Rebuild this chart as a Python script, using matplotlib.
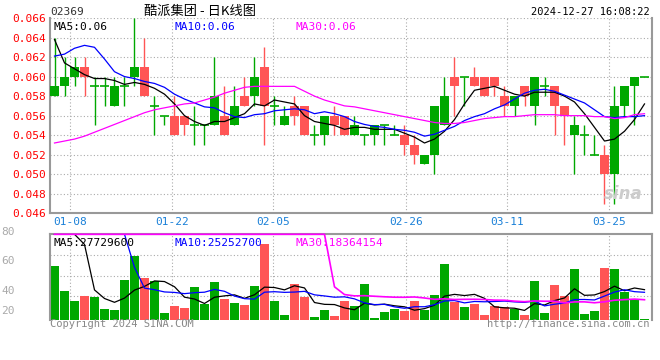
import numpy as np
import pandas as pd
import matplotlib.pyplot as plt

# 02369 daily K-line, HK colours: green = up day, red = down day
opens = [0.058, 0.059, 0.060, 0.061, 0.059, 0.059, 0.057, 0.059, 0.060, 0.061,
         0.057, 0.056, 0.056, 0.056, 0.055, 0.055, 0.055, 0.056, 0.055, 0.058,
         0.058, 0.061, 0.057, 0.055, 0.057, 0.057, 0.054, 0.054, 0.056, 0.056,
         0.054, 0.054, 0.054, 0.055, 0.054, 0.054, 0.053, 0.051, 0.052, 0.055,
         0.060, 0.060, 0.060, 0.060, 0.060, 0.058, 0.057, 0.059, 0.057, 0.059,
         0.059, 0.057, 0.054, 0.054, 0.052, 0.052, 0.050, 0.057, 0.059, 0.060]
closes = [0.059, 0.060, 0.061, 0.060, 0.059, 0.059, 0.059, 0.059, 0.061, 0.058,
          0.057, 0.056, 0.054, 0.055, 0.055, 0.055, 0.058, 0.054, 0.057, 0.057,
          0.060, 0.057, 0.057, 0.056, 0.056, 0.054, 0.054, 0.056, 0.055, 0.054,
          0.055, 0.054, 0.055, 0.055, 0.054, 0.053, 0.052, 0.052, 0.057, 0.058,
          0.059, 0.060, 0.059, 0.058, 0.059, 0.057, 0.058, 0.058, 0.060, 0.059,
          0.057, 0.056, 0.055, 0.054, 0.052, 0.050, 0.057, 0.059, 0.060, 0.060]
highs = [0.064, 0.062, 0.062, 0.062, 0.060, 0.060, 0.060, 0.060, 0.066, 0.064,
         0.058, 0.056, 0.058, 0.056, 0.057, 0.055, 0.062, 0.059, 0.059, 0.060,
         0.062, 0.063, 0.058, 0.057, 0.058, 0.057, 0.055, 0.056, 0.057, 0.056,
         0.056, 0.054, 0.055, 0.055, 0.055, 0.055, 0.054, 0.052, 0.057, 0.060,
         0.062, 0.060, 0.061, 0.060, 0.060, 0.059, 0.058, 0.059, 0.060, 0.060,
         0.059, 0.057, 0.056, 0.055, 0.054, 0.053, 0.059, 0.059, 0.060, 0.060]
lows = [0.058, 0.058, 0.059, 0.058, 0.055, 0.057, 0.057, 0.057, 0.059, 0.058,
        0.054, 0.055, 0.054, 0.054, 0.053, 0.053, 0.055, 0.054, 0.055, 0.057,
        0.057, 0.053, 0.055, 0.055, 0.055, 0.054, 0.053, 0.053, 0.054, 0.054,
        0.054, 0.053, 0.053, 0.053, 0.054, 0.052, 0.051, 0.051, 0.050, 0.055,
        0.056, 0.057, 0.059, 0.058, 0.058, 0.056, 0.056, 0.057, 0.055, 0.058,
        0.054, 0.053, 0.050, 0.052, 0.052, 0.047, 0.047, 0.056, 0.055, 0.060]
# volume, million shares
vols = [49.8, 26.9, 17.7, 22.2, 21.4, 10.4, 9.4, 37.0, 58.9, 38.5,
        35.4, 6.5, 13.2, 11.0, 30.2, 14.9, 35.1, 19.5, 15.6, 14.1,
        31.5, 70.0, 17.7, 4.9, 33.0, 21.4, 3.1, 9.4, 3.9, 17.6,
        13.0, 33.0, 1.8, 7.3, 10.1, 8.3, 17.4, 9.1, 22.9, 51.7,
        16.5, 11.9, 14.6, 4.6, 12.8, 11.9, 10.1, 4.6, 35.7, 6.5,
        32.1, 22.2, 46.8, 5.5, 8.3, 47.7, 46.8, 25.7, 18.3, 0.6]

# days before the window (estimated from where the MA lines enter)
prev_close = [0.058, 0.055, 0.057, 0.061, 0.071, 0.072, 0.064, 0.063, 0.061]
prev_vol = [18, 22, 15, 30, 26, 12, 20, 17, 24, 35, 19, 14, 28, 21, 16,
            25, 33, 20, 18, 27, 22, 15, 29, 24, 19, 23, 26, 1500, 230]
# price MA30
ma30 = [0.0532, 0.0534, 0.0536, 0.0539, 0.0543, 0.0547, 0.0551, 0.0555, 0.0559, 0.0563,
        0.0566, 0.0568, 0.0570, 0.0572, 0.0573, 0.0576, 0.0579, 0.0583, 0.0586, 0.0589,
        0.0590, 0.0590, 0.0590, 0.0590, 0.0590, 0.0585, 0.0580, 0.0576, 0.0573, 0.0570,
        0.0569, 0.0567, 0.0565, 0.0563, 0.0561, 0.0559, 0.0557, 0.0555, 0.0553, 0.0552,
        0.0552, 0.0553, 0.0555, 0.0557, 0.0558, 0.0559, 0.0559, 0.0560, 0.0561, 0.0561,
        0.0561, 0.0560, 0.0560, 0.0560, 0.0559, 0.0559, 0.0557, 0.0558, 0.0561, 0.0562]

date_idx = [2, 12, 22, 35, 45, 55]
date_labels = ['01-08', '01-22', '02-05', '02-26', '03-11', '03-25']
price_ticks = [0.046, 0.048, 0.050, 0.052, 0.054, 0.056, 0.058, 0.060, 0.062, 0.064, 0.066]
vol_grid = [22.3, 40.6, 59.4]
vol_top = 78.6

GREEN = '#00a800'
RED = '#ff5555'
GRID = '#aaaaaa'
MONO = 'DejaVu Sans Mono'

o = np.array(opens); c = np.array(closes); h = np.array(highs); l = np.array(lows)
v = np.array(vols)
n = len(c)
x = np.arange(n)
xc = x + 0.45
cols = np.where(c >= o, GREEN, RED)

cs = pd.Series(prev_close + closes)
ma5 = cs.rolling(5).mean().values[len(prev_close):]
ma10 = cs.rolling(10).mean().values[len(prev_close):]
vs = pd.Series(prev_vol + vols)
vma5 = np.minimum(vs.rolling(5).mean().values[len(prev_vol):], vol_top)
vma10 = np.minimum(vs.rolling(10).mean().values[len(prev_vol):], vol_top)
vma30 = np.minimum(vs.rolling(30).mean().values[len(prev_vol):], vol_top)

# sina spaces the date grid with a slightly wider step than the 10px candles
grid_x = np.array(date_idx) * 1.017 - 0.03

W, H = 660, 360
fig = plt.figure(figsize=(6.6, 3.6), dpi=100)
ax1 = fig.add_axes([50 / W, 1 - 213.3 / H, 602 / W, 195.3 / H])
ax2 = fig.add_axes([50 / W, 1 - 320 / H, 602 / W, 85.7 / H])

# price pane
for y in price_ticks[1:]:
    ax1.axhline(y, color=GRID, lw=0.8, ls=(0, (1, 2)), zorder=0)
for gx in grid_x:
    ax1.axvline(gx, color=GRID, lw=0.8, ls=(0, (1, 2)), zorder=0)
ax1.vlines(xc, l, h, colors=cols, lw=1, zorder=2)
ax1.bar(x, np.abs(c - o), bottom=np.minimum(o, c), width=0.9, align='edge',
        color=cols, linewidth=0, zorder=3)
doji = c == o
ax1.hlines(c[doji], x[doji], x[doji] + 0.9, colors=cols[doji], lw=1.2, zorder=3)
ax1.plot(xc, ma5, color='black', lw=0.9, zorder=4)
ax1.plot(xc, ma10, color='#0000ff', lw=0.9, zorder=4)
ax1.plot(xc, ma30, color='#ff00ff', lw=0.9, zorder=4)
ax1.set_xlim(0, 60.2)
ax1.set_ylim(0.046, 0.066)
ax1.set_yticks(price_ticks)
ax1.set_yticklabels([f'{t:.3f}' for t in price_ticks], color='red',
                    fontfamily=MONO, fontsize=8)
ax1.set_xticks(grid_x)
ax1.set_xticklabels(date_labels, color='#1a80d8', fontfamily=MONO, fontsize=8)
ax1.tick_params(length=0, pad=3)
ax1.spines['top'].set_visible(False)
for s in ['left', 'right', 'bottom']:
    ax1.spines[s].set_color('#999999')
    ax1.spines[s].set_linewidth(1.5)
ax1.text(0.005, 0.955, 'MA5:0.06', transform=ax1.transAxes, color='black',
         fontfamily=MONO, fontsize=8, va='center')
ax1.text(0.207, 0.955, 'MA10:0.06', transform=ax1.transAxes, color='#0000ff',
         fontfamily=MONO, fontsize=8, va='center')
ax1.text(0.407, 0.955, 'MA30:0.06', transform=ax1.transAxes, color='#ff00ff',
         fontfamily=MONO, fontsize=8, va='center')
ax1.text(0.985, 0.1, 'sina', transform=ax1.transAxes, color='#cccccc',
         fontsize=12, fontstyle='italic', fontweight='bold', ha='right', va='center')

# volume pane
for y in vol_grid:
    ax2.axhline(y, color=GRID, lw=0.8, ls=(0, (1, 2)), zorder=0)
for gx in grid_x:
    ax2.axvline(gx, color=GRID, lw=0.8, ls=(0, (1, 2)), zorder=0)
ax2.bar(x, v, width=0.9, align='edge', color=cols, linewidth=0, zorder=2)
ax2.plot(xc, vma5, color='black', lw=0.9, zorder=4)
ax2.plot(xc, vma10, color='#0000ff', lw=0.9, zorder=4)
ax2.plot(xc, vma30, color='#ff00ff', lw=1.2, zorder=5, clip_on=False)
ax2.set_xlim(0, 60.2)
ax2.set_ylim(0, vol_top)
ax2.set_xticks([]); ax2.set_yticks([])
ax2.spines['bottom'].set_visible(False)
for s in ['left', 'right', 'top']:
    ax2.spines[s].set_color('#999999')
    ax2.spines[s].set_linewidth(1.5)
ax2.text(0.005, 0.9, 'MA5:27729600', transform=ax2.transAxes, color='black',
         fontfamily=MONO, fontsize=8, va='center', zorder=6)
ax2.text(0.207, 0.9, 'MA10:25252700', transform=ax2.transAxes, color='#0000ff',
         fontfamily=MONO, fontsize=8, va='center', zorder=6)
ax2.text(0.407, 0.9, 'MA30:18364154', transform=ax2.transAxes, color='#ff00ff',
         fontfamily=MONO, fontsize=8, va='center', zorder=6)

# header / footer texts
def ftext(px, py, s, **kw):
    fig.text(px / W, 1 - py / H, s, **kw)

ftext(50, 12, '02369', color='#333333', fontfamily=MONO, fontsize=8, va='center')
ftext(200, 11, '酷派集团 - 日K线图', color='black', fontsize=9.5, ha='center', va='center',
      family=['Noto Sans CJK SC', 'DejaVu Sans'])
ftext(650, 12, '2024-12-27 16:08:22', color='black', fontfamily=MONO, fontsize=7.5,
      ha='right', va='center')
for lab, py in [('80', 232), ('60', 261), ('40', 291), ('20', 311)]:
    ftext(1, py, lab, color='#aaaaaa', fontfamily=MONO, fontsize=8, va='center')
ftext(50, 324, 'Copyright 2024 SINA.COM', color='#888888', fontfamily=MONO,
      fontsize=7.5, va='center')
ftext(650, 324, 'http://finance.sina.com.cn', color='#888888', fontfamily=MONO,
      fontsize=7.5, ha='right', va='center')

fig.savefig('out.png', dpi=100)
